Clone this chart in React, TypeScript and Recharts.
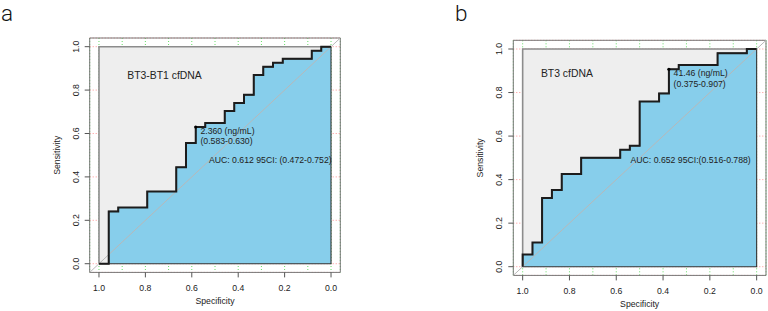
import React from 'react';
import { ComposedChart, XAxis, YAxis, Area, Line, Scatter, CartesianGrid } from 'recharts';

// ---------- data ----------
const specA = [1, 0.958, 0.958, 0.917, 0.917, 0.792, 0.792, 0.667, 0.667, 0.625, 0.625, 0.583, 0.583, 0.542, 0.542, 0.458, 0.458, 0.417, 0.417, 0.375, 0.375, 0.333, 0.333, 0.292, 0.292, 0.25, 0.25, 0.208, 0.208, 0.083, 0.083, 0.042, 0.042, 0];
const sensA = [0, 0, 0.241, 0.241, 0.259, 0.259, 0.333, 0.333, 0.444, 0.444, 0.556, 0.556, 0.63, 0.63, 0.648, 0.648, 0.704, 0.704, 0.741, 0.741, 0.778, 0.778, 0.87, 0.87, 0.907, 0.907, 0.926, 0.926, 0.944, 0.944, 0.981, 0.981, 1, 1];

const specB = [1, 1, 0.958, 0.958, 0.917, 0.917, 0.875, 0.875, 0.833, 0.833, 0.75, 0.75, 0.583, 0.583, 0.542, 0.542, 0.5, 0.5, 0.417, 0.417, 0.375, 0.375, 0.333, 0.333, 0.167, 0.167, 0.042, 0.042, 0];
const sensB = [0, 0.056, 0.056, 0.111, 0.111, 0.315, 0.315, 0.352, 0.352, 0.426, 0.426, 0.5, 0.5, 0.537, 0.537, 0.556, 0.556, 0.759, 0.759, 0.796, 0.796, 0.907, 0.907, 0.926, 0.926, 0.981, 0.981, 1, 1];

const gridXTicks = [0, 0.1, 0.2, 0.3, 0.4, 0.5, 0.6, 0.7, 0.8, 0.9, 1];
const yTicks = [0, 0.2, 0.4, 0.6, 0.8, 1];

const titleA = { x: 0.878, y: 0.85, text: 'BT3-BT1 cfDNA' };
const titleB = { x: 0.922, y: 0.873, text: 'BT3 cfDNA' };
const threshA = { x: 0.583, y: 0.63, l1: '2.360 (ng/mL)', l2: '(0.583-0.630)' };
const threshB = { x: 0.375, y: 0.907, l1: '41.46 (ng/mL)', l2: '(0.375-0.907)' };
const aucA = { x: 0.526, y: 0.466, text: 'AUC: 0.612 95CI: (0.472-0.752)' };
const aucB = { x: 0.539, y: 0.476, text: 'AUC: 0.652 95CI:(0.516-0.788)' };

const panelLetters = ['a', 'b'];
const xTitle = 'Specificity';
const yTitle = 'Sensitivity';

// ---------- styles ----------
const FONT = "'Liberation Sans', Arial, Helvetica, sans-serif";
const TXT = '#222';
const LO = -0.04;
const HI = 1.04;

const XTick = (props: any) => {
  const { x, y, payload } = props;
  const v = payload.value;
  const major = Math.abs(v * 5 - Math.round(v * 5)) < 1e-6;
  if (!major) return <g />;
  return (
    <g>
      <line x1={x} y1={y} x2={x} y2={y + 5} stroke="#555" strokeWidth={1} />
      <text x={x} y={y + 18.5} textAnchor="middle" fontSize={8.7} fontFamily={FONT} fill={TXT}>
        {v.toFixed(1)}
      </text>
    </g>
  );
};

const YTick = (props: any) => {
  const { x, y, payload } = props;
  const v = payload.value;
  return (
    <g>
      <line x1={x - 5} y1={y} x2={x} y2={y} stroke="#555" strokeWidth={1} />
      <text
        x={x - 11}
        y={y}
        transform={`rotate(-90 ${x - 11} ${y})`}
        textAnchor="middle"
        fontSize={8.7}
        fontFamily={FONT}
        fill={TXT}
      >
        {v.toFixed(1)}
      </text>
    </g>
  );
};

type PanelProps = {
  spec: number[];
  sens: number[];
  title: { x: number; y: number; text: string };
  thresh: { x: number; y: number; l1: string; l2: string };
  auc: { x: number; y: number; text: string };
  margin: { top: number; right: number; bottom: number; left: number };
};

const Panel = ({ spec, sens, title, thresh, auc, margin }: PanelProps) => {
  const roc = spec.map((s, i) => ({ x: s, y: sens[i] }));
  const maxPoly = [{ x: 1, y: 1 }, { x: 0, y: 1 }];
  const maxBorder = [{ x: 1, y: 0 }, { x: 1, y: 1 }, { x: 0, y: 1 }];
  const aucBorder = [...roc, { x: 0, y: 0 }, { x: 1, y: 0 }];
  const frame = [
    { x: HI, y: LO },
    { x: LO, y: LO },
    { x: LO, y: HI },
    { x: HI, y: HI },
    { x: HI, y: LO },
  ];
  const diag = [{ x: HI, y: LO }, { x: LO, y: HI }];

  return (
    <ComposedChart width={384} height={311} margin={margin} style={{ fontFamily: FONT }}>
      <CartesianGrid
        horizontal={(p: any) => (
          <line key={`h${p.index}`} x1={p.x1} y1={p.y1} x2={p.x2} y2={p.y2} stroke="#ff9090" strokeWidth={1} strokeDasharray="1 2" />
        )}
        vertical={(p: any) => (
          <line key={`v${p.index}`} x1={p.x1} y1={p.y1} x2={p.x2} y2={p.y2} stroke="#66dd66" strokeWidth={1} strokeDasharray="1 2" />
        )}
      />
      <XAxis
        type="number"
        dataKey="x"
        domain={[LO, HI]}
        reversed
        ticks={gridXTicks}
        interval={0}
        tickSize={0}
        tickMargin={0}
        tickLine={false}
        axisLine={false}
        height={30}
        tick={<XTick />}
        label={{
          content: (p: any) => (
            <text
              x={p.viewBox.x + p.viewBox.width / 2}
              y={p.viewBox.y + 31.5}
              textAnchor="middle"
              fontSize={8.7}
              fontFamily={FONT}
              fill={TXT}
            >
              {xTitle}
            </text>
          ),
        }}
      />
      <YAxis
        type="number"
        dataKey="y"
        domain={[LO, HI]}
        ticks={yTicks}
        interval={0}
        tickSize={0}
        tickMargin={0}
        tickLine={false}
        axisLine={false}
        width={40}
        tick={<YTick />}
        label={{
          content: (p: any) => {
            const lx = p.viewBox.x + p.viewBox.width - 30;
            const ly = p.viewBox.y + p.viewBox.height / 2;
            return (
              <text
                x={lx}
                y={ly}
                transform={`rotate(-90 ${lx} ${ly})`}
                textAnchor="middle"
                fontSize={8.7}
                fontFamily={FONT}
                fill={TXT}
              >
                {yTitle}
              </text>
            );
          },
        }}
      />
      <Area data={maxPoly} dataKey="y" type="linear" fill="#eeeeee" fillOpacity={1} stroke="none" isAnimationActive={false} />
      <Area data={roc} dataKey="y" type="linear" fill="#87ceeb" fillOpacity={1} stroke="none" isAnimationActive={false} />
      <Line data={frame} dataKey="y" type="linear" stroke="#777" strokeWidth={1} dot={false} activeDot={false} isAnimationActive={false} />
      <Line data={maxBorder} dataKey="y" type="linear" stroke="#8c8c8c" strokeWidth={1.6} dot={false} activeDot={false} isAnimationActive={false} />
      <Line data={aucBorder} dataKey="y" type="linear" stroke="#333" strokeWidth={1.1} dot={false} activeDot={false} isAnimationActive={false} />
      <Line data={diag} dataKey="y" type="linear" stroke="#b8b8b8" strokeWidth={1} dot={false} activeDot={false} isAnimationActive={false} />
      <Line data={roc} dataKey="y" type="linear" stroke="#1c1c1c" strokeWidth={2} dot={false} activeDot={false} isAnimationActive={false} />
      <Scatter
        data={[thresh]}
        isAnimationActive={false}
        shape={(p: any) => (
          <g>
            <circle cx={p.cx} cy={p.cy} r={1.6} fill="#000" />
            <text x={p.cx + 4.7} y={p.cy + 7.2} fontSize={8.7} fontFamily={FONT} fill={TXT}>
              {p.payload.l1}
            </text>
            <text x={p.cx + 4.7} y={p.cy + 17.4} fontSize={8.7} fontFamily={FONT} fill={TXT}>
              {p.payload.l2}
            </text>
          </g>
        )}
      />
      <Scatter
        data={[title]}
        isAnimationActive={false}
        shape={(p: any) => (
          <text x={p.cx} y={p.cy} fontSize={10.4} fontFamily={FONT} fill={TXT}>
            {p.payload.text}
          </text>
        )}
      />
      <Scatter
        data={[auc]}
        isAnimationActive={false}
        shape={(p: any) => (
          <text x={p.cx} y={p.cy} fontSize={8.7} fontFamily={FONT} fill={TXT}>
            {p.payload.text}
          </text>
        )}
      />
    </ComposedChart>
  );
};

export default function App() {
  return (
    <div style={{ position: 'absolute', left: 0, top: 0, width: 768, height: 311, background: '#fff', overflow: 'hidden' }}>
      <svg width={768} height={311} style={{ position: 'absolute', left: 0, top: 0 }}>
        <text x={1} y={21} fontSize={22.5} fontWeight={300} fontFamily="Roboto, 'Liberation Sans', sans-serif" fill="#111">
          {panelLetters[0]}
        </text>
        <text x={455} y={21} fontSize={22.5} fontWeight={300} fontFamily="Roboto, 'Liberation Sans', sans-serif" fill="#111">
          {panelLetters[1]}
        </text>
      </svg>
      <div style={{ position: 'absolute', left: 0, top: 0 }}>
        <Panel spec={specA} sens={sensA} title={titleA} thresh={threshA} auc={aucA} margin={{ top: 38, right: 43.7, bottom: 8.6, left: 49.7 }} />
      </div>
      <div style={{ position: 'absolute', left: 384, top: 0 }}>
        <Panel spec={specB} sens={sensB} title={titleB} thresh={threshB} auc={aucB} margin={{ top: 40.3, right: 2, bottom: 5.6, left: 89.3 }} />
      </div>
    </div>
  );
}
